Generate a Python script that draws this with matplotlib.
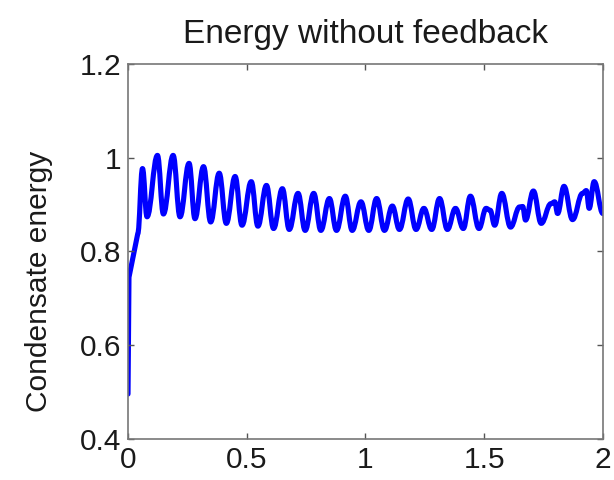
import matplotlib
matplotlib.use("Agg")
import matplotlib.pyplot as plt
from matplotlib.path import Path
from matplotlib.patches import PathPatch

# Time (x) and condensate energy (y), read at extrema of the oscillation
time = [0.0, 0.004, 0.041, 0.061, 0.080, 0.124, 0.149, 0.190, 0.219, 0.257, 0.282,
        0.318, 0.348, 0.384, 0.414, 0.451, 0.480, 0.519, 0.547, 0.583, 0.613,
        0.650, 0.679, 0.716, 0.746, 0.782, 0.812, 0.848, 0.878, 0.915, 0.944,
        0.981, 1.014, 1.047, 1.080, 1.113, 1.143, 1.180, 1.213, 1.246, 1.279,
        1.312, 1.345, 1.379, 1.412, 1.442, 1.478, 1.508, 1.525, 1.544, 1.574,
        1.611, 1.649, 1.662, 1.674, 1.707, 1.740, 1.781, 1.797, 1.809, 1.836,
        1.872, 1.914, 1.930, 1.942, 1.963, 2.0]
energy = [0.496, 0.745, 0.838, 0.977, 0.874, 1.005, 0.880, 1.005, 0.874, 0.988, 0.870,
          0.981, 0.863, 0.967, 0.860, 0.960, 0.856, 0.949, 0.854, 0.941, 0.849,
          0.934, 0.847, 0.924, 0.845, 0.924, 0.845, 0.913, 0.845, 0.918, 0.845,
          0.906, 0.845, 0.913, 0.845, 0.897, 0.847, 0.912, 0.847, 0.892, 0.847,
          0.913, 0.847, 0.892, 0.849, 0.918, 0.849, 0.892, 0.888, 0.856, 0.924,
          0.852, 0.895, 0.896, 0.867, 0.929, 0.860, 0.902, 0.906, 0.881, 0.939,
          0.868, 0.924, 0.930, 0.892, 0.949, 0.881]

x_ticks = [0, 0.5, 1, 1.5, 2]
x_labels = ["0", "0.5", "1", "1.5", "2"]
y_ticks = [0.4, 0.6, 0.8, 1.0, 1.2]
y_labels = ["0.4", "0.6", "0.8", "1", "1.2"]

plt.rcParams['font.family'] = ['Liberation Sans', 'DejaVu Sans']

fig = plt.figure(figsize=(6.14, 4.8), dpi=100)
ax = fig.add_axes([0.2085, 0.0854, 0.7735, 0.7813])

# Smooth curve through the read extrema: straight initial rise, then
# cubic segments with flat tangents at each extremum (sinusoid-like look).
verts = [(time[0], energy[0]), (time[1], energy[1]), (time[2], energy[2])]
codes = [Path.MOVETO, Path.LINETO, Path.LINETO]
for i in range(2, len(time) - 1):
    x0, y0 = time[i], energy[i]
    x1, y1 = time[i + 1], energy[i + 1]
    d = (x1 - x0) * 0.4
    verts += [(x0 + d, y0), (x1 - d, y1), (x1, y1)]
    codes += [Path.CURVE4, Path.CURVE4, Path.CURVE4]
ax.add_patch(PathPatch(Path(verts, codes), facecolor='none', edgecolor='#0000ff',
                       linewidth=3.7, joinstyle='round', capstyle='round'))

ax.set_xlim(0, 2)
ax.set_ylim(0.4, 1.2)
ax.set_xticks(x_ticks)
ax.set_xticklabels(x_labels)
ax.set_yticks(y_ticks)
ax.set_yticklabels(y_labels)

ax.tick_params(direction='in', length=4, width=1, color='#555555',
               labelsize=21.5, top=True, right=True, pad=5, labelcolor='#1a1a1a')
for s in ax.spines.values():
    s.set_color('#777777')
    s.set_linewidth(1.2)

ax.set_title("Energy without feedback", fontsize=24, pad=15, color='#1a1a1a')
ax.set_ylabel("Condensate energy", fontsize=21.5, color='#1a1a1a')
ax.yaxis.set_label_coords(-0.158, 0.419)

fig.savefig("out.png", dpi=100)
